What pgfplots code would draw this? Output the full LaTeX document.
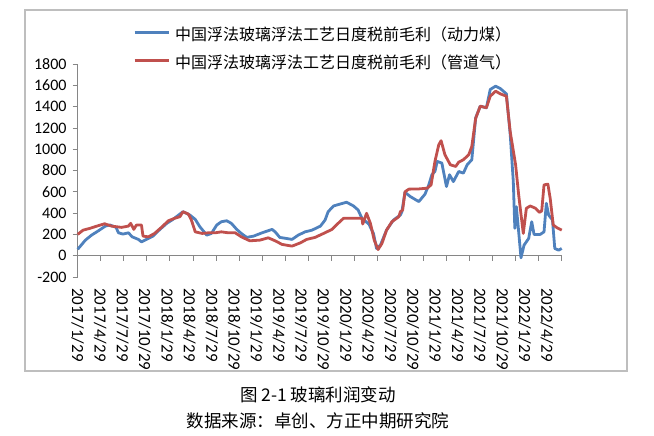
\documentclass[border=0pt]{standalone}
\usepackage{pgfplots}
\pgfplotsset{compat=1.18}
\usepackage{fontspec}
\setmainfont{Carlito}
\newfontfamily\cjk{Noto Sans CJK SC}
\definecolor{sblue}{RGB}{79,129,189}
\definecolor{sred}{RGB}{192,80,77}
\definecolor{framegray}{RGB}{190,190,190}
\definecolor{axisgray}{RGB}{134,134,134}

% months since 2017/1/29, profit (yuan/t)
\pgfplotstableread{
m v
0 60
1.0 146
1.8 193
2.7 234
3.6 278
4.2 288
5.0 266
5.3 215
5.9 203
6.6 215
7.1 177
7.9 153
8.3 130
8.95 153
9.8 184
10.7 247
11.6 304
12.4 341
13.3 391
13.7 413
14.6 382
15.3 341
15.9 272
16.8 193
17.4 209
18.1 288
18.7 319
19.4 328
20.0 304
20.7 247
21.3 209
22.0 172
22.9 184
24.0 215
25.3 247
25.7 224
26.3 172
27.9 153
28.7 193
29.6 224
30.5 240
31.6 278
32.2 335
32.6 413
33.3 467
34.2 486
35.0 502
35.9 467
36.5 429
37.0 351
37.9 297
38.5 209
38.9 68
39.4 99
40.2 240
41.1 335
42.0 382
42.2 413
42.6 595
43.3 555
44.4 508
45.2 577
45.7 665
46.1 760
46.5 791
46.8 885
47.4 870
48.0 649
48.4 760
48.9 696
49.6 791
50.2 775
50.7 854
51.3 901
51.8 1294
52.4 1404
53.2 1389
53.7 1561
54.4 1592
55.0 1570
55.8 1520
56.3 1137
56.7 696
56.9 257
57.1 460
57.4 224
57.7 -20
58.1 99
58.7 162
59.1 319
59.4 200
60.2 200
60.7 224
61.0 492
61.3 382
61.8 335
62.1 68
62.6 52
63.0 68
}\coal

\pgfplotstableread{
m v
0 200
0.7 240
1.6 257
2.5 278
3.5 300
4.4 278
5.7 266
6.6 278
6.9 304
7.3 247
7.65 288
8.3 288
8.5 184
9.2 177
10.0 209
10.9 266
11.8 328
12.6 351
13.3 366
13.7 413
14.4 391
14.8 335
15.3 224
16.2 209
17.0 215
17.9 215
18.7 224
19.6 215
20.5 215
21.3 177
22.4 140
23.7 146
24.8 168
25.7 140
26.6 106
27.9 90
29.0 121
29.8 153
30.9 172
32.0 209
33.1 247
33.9 304
34.6 351
35.9 351
37.0 351
37.1 297
37.6 398
38.1 304
38.6 146
39.1 58
39.6 115
40.2 240
40.9 319
41.8 366
42.0 413
42.3 429
42.6 600
43.1 625
44.4 627
45.5 634
46.0 665
46.5 885
47.0 1042
47.3 1080
47.8 948
48.5 854
49.2 838
49.6 879
50.2 901
50.9 948
51.3 1026
51.8 1290
52.4 1404
53.2 1389
53.7 1498
54.4 1545
55.0 1520
55.8 1498
56.3 1163
57.0 854
57.4 571
58.0 209
58.4 445
58.9 467
59.6 445
60.1 407
60.4 420
60.7 665
61.2 672
61.5 540
61.9 288
62.4 262
63.0 240
}\gas

\begin{document}
\begin{tikzpicture}[x=1pt,y=1pt]
\path (0,0) rectangle (654,-436);
\draw[framegray, line width=1.2pt] (25,-10) rectangle (627,-371);

\begin{axis}[
    at={(77.7pt,-277pt)}, anchor=south west,
    width=484pt, height=213pt, scale only axis,
    xmin=0, xmax=63, ymin=-200, ymax=1800,
    axis x line=middle, axis y line=left,
    axis line style={axisgray, line width=0.8pt, -},
    tick style={axisgray, line width=0.8pt},
    major tick length=5pt, tick align=outside, xtick align=outside,
    xtick={0,3,...,63}, xticklabels={},
    ytick={-200,0,...,1800},
    yticklabels={-200,0,200,400,600,800,1000,1200,1400,1600,1800},
    yticklabel style={font=\fontsize{16}{16}\selectfont, inner sep=0pt, anchor=east, xshift=-6pt},
    clip=false,
    legend style={draw=none, fill=none, inner sep=0pt,
        at={(axis description cs:0.1143,1.167)}, anchor=north west,
        row sep=13pt,
        nodes={inner sep=0pt, text height=12pt, text depth=3pt,
               font=\cjk\fontsize{16}{16}\selectfont}},
    legend cell align=left,
    /tikz/every odd column/.append style={column sep=5pt},
    legend image code/.code={\draw[#1] (0pt,4pt) -- (34pt,4pt);},
]
\addplot[sblue, line width=2.8pt, line join=round] table[x=m, y=v] {\coal};
\addlegendentry{中国浮法玻璃浮法工艺日度税前毛利（动力煤）}
\addplot[sred, line width=2.8pt, line join=round] table[x=m, y=v] {\gas};
\addlegendentry{中国浮法玻璃浮法工艺日度税前毛利（管道气）}
\end{axis}

\begin{axis}[
    at={(77.7pt,-277pt)}, anchor=south west,
    width=484pt, height=213pt, scale only axis,
    xmin=0, xmax=64.97, ymin=0, ymax=1,
    axis line style={draw=none}, tick style={draw=none},
    major tick length=0pt, ytick=\empty,
    xtick={0,3,...,63},
    xticklabels={2017/1/29,2017/4/29,2017/7/29,2017/10/29,
        2018/1/29,2018/4/29,2018/7/29,2018/10/29,
        2019/1/29,2019/4/29,2019/7/29,2019/10/29,
        2020/1/29,2020/4/29,2020/7/29,2020/10/29,
        2021/1/29,2021/4/29,2021/7/29,2021/10/29,
        2022/1/29,2022/4/29},
    xticklabel style={rotate=-90, anchor=west, inner sep=0pt,
        font=\fontsize{17}{17}\selectfont},
    xticklabel shift=11pt,
]
\end{axis}

\node[font=\cjk\fontsize{17.5}{17.5}\selectfont] at (318,-395) {图 2-1 玻璃利润变动};
\node[font=\cjk\fontsize{17.5}{17.5}\selectfont] at (318,-421) {数据来源：卓创、方正中期研究院};
\end{tikzpicture}
\end{document}
